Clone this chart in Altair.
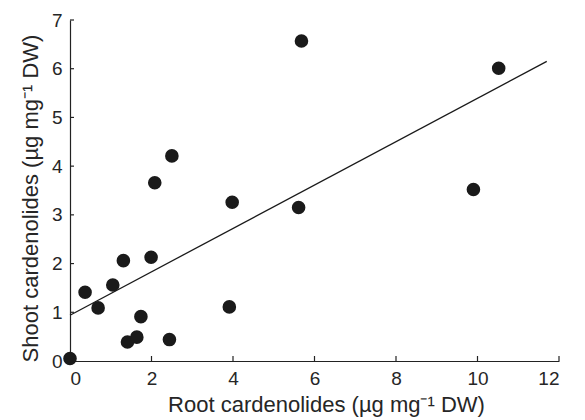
import altair as alt
import pandas as pd

# Scatter data (root vs shoot cardenolides)
root = [0.0, 0.37, 0.69, 1.05, 1.31, 1.41, 1.64, 1.74, 1.99, 2.08, 2.50, 2.44, 3.98, 3.91, 5.61, 5.68, 9.90, 10.52]
shoot = [0.05, 1.41, 1.09, 1.56, 2.06, 0.39, 0.49, 0.91, 2.13, 3.66, 4.21, 0.44, 3.26, 1.11, 3.15, 6.57, 3.52, 6.01]

# Fitted line endpoints
line_x = [0.0, 11.7]
line_y = [0.94, 6.15]

x_ticks = [0, 2, 4, 6, 8, 10, 12]
y_ticks = [0, 1, 2, 3, 4, 5, 6, 7]

pts = pd.DataFrame({"root": root, "shoot": shoot})
ln = pd.DataFrame({"root": line_x, "shoot": line_y})
xt = pd.DataFrame({"v": x_ticks})
yt = pd.DataFrame({"v": y_ticks})

W, H = 489, 341
FONT = "Liberation Sans"
TXT = "#262626"

xscale = alt.Scale(domain=[0, 12], nice=False, zero=False)
yscale = alt.Scale(domain=[0, 7], nice=False, zero=False)

xaxis = alt.Axis(values=x_ticks, ticks=False, grid=False, labelFontSize=19, labelPadding=8,
                 title="Root cardenolides (µg mg⁻¹ DW)", titleFontSize=22, titleFontWeight="normal",
                 titleX=256, titleY=50, titleBaseline="alphabetic", titleAlign="center",
                 labelFont=FONT, titleFont=FONT, labelColor=TXT, titleColor=TXT,
                 domainColor="#222222", domainWidth=1.2)
yaxis = alt.Axis(values=y_ticks, ticks=False, grid=False, labelFontSize=19, labelPadding=8,
                 title="Shoot cardenolides (µg mg⁻¹ DW)", titleFontSize=22, titleFontWeight="normal",
                 titleX=-33, titleY=178, titleBaseline="alphabetic", titleAlign="center", titleAngle=270,
                 labelFont=FONT, titleFont=FONT, labelColor=TXT, titleColor=TXT,
                 domainColor="#222222", domainWidth=1.2)

points = alt.Chart(pts).mark_circle(size=185, opacity=1, color="#1a1a1a").encode(
    x=alt.X("root:Q", scale=xscale, axis=xaxis),
    y=alt.Y("shoot:Q", scale=yscale, axis=yaxis),
)

line = alt.Chart(ln).mark_line(color="#1a1a1a", strokeWidth=1.3).encode(
    x=alt.X("root:Q", scale=xscale),
    y=alt.Y("shoot:Q", scale=yscale),
)

xtick = alt.Chart(xt).mark_rule(color="#222222", strokeWidth=1.2).encode(
    x=alt.X("v:Q", scale=xscale),
    y=alt.value(H),
    y2=alt.value(H - 5),
)
ytick = alt.Chart(yt).mark_rule(color="#222222", strokeWidth=1.2).encode(
    y=alt.Y("v:Q", scale=yscale),
    x=alt.value(0),
    x2=alt.value(4),
)

chart = alt.layer(xtick, ytick, line, points).properties(
    width=W, height=H,
    autosize=alt.AutoSizeParams(type="none"),
    padding={"left": 62, "top": 12, "right": 10, "bottom": 56},
).configure_view(stroke=None)

chart.save("out.html", embed_options={"renderer": "svg", "actions": False})
